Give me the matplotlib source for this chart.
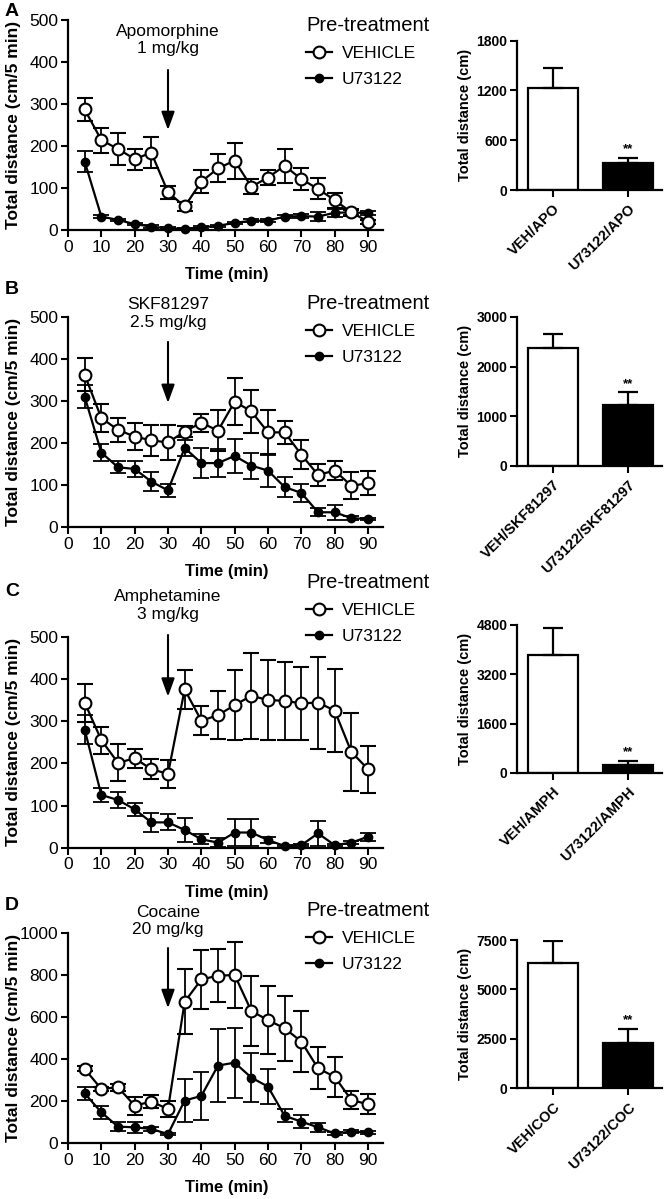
import numpy as np
import matplotlib
matplotlib.use("Agg")
import matplotlib.pyplot as plt

plt.rcParams['font.family'] = ['Liberation Sans', 'DejaVu Sans']

# time bins (min)
time = [5, 10, 15, 20, 25, 30, 35, 40, 45, 50, 55, 60, 65, 70, 75, 80, 85, 90]

# A: apomorphine
apo_veh = [287, 214, 193, 169, 184, 90, 56, 115, 147, 165, 103, 125, 153, 121, 98, 71, 42, 20]
apo_veh_err = [27, 30, 39, 25, 37, 15, 11, 28, 33, 43, 18, 18, 40, 26, 25, 18, 8, 5]
apo_u = [163, 32, 24, 14, 8, 4, 3, 6, 10, 17, 22, 22, 32, 33, 32, 41, 42, 40]
apo_u_err = [24, 3, 3, 3, 3, 2, 2, 3, 3, 3, 4, 4, 4, 4, 10, 10, 6, 5]

# B: SKF81297
skf_veh = [362, 259, 231, 215, 206, 201, 227, 248, 229, 298, 275, 225, 225, 172, 124, 134, 98, 104]
skf_veh_err = [39, 34, 28, 32, 37, 42, 14, 21, 48, 56, 51, 52, 28, 34, 26, 22, 32, 28]
skf_u = [310, 177, 142, 138, 108, 87, 188, 152, 152, 169, 146, 134, 95, 81, 35, 35, 21, 19]
skf_u_err = [28, 21, 14, 18, 22, 16, 19, 35, 33, 40, 31, 38, 24, 22, 10, 18, 4, 3]

# C: amphetamine
amph_veh = [344, 255, 201, 212, 186, 175, 375, 301, 314, 338, 360, 350, 348, 342, 344, 325, 227, 186]
amph_veh_err = [45, 32, 44, 23, 24, 33, 46, 35, 57, 83, 102, 95, 93, 87, 109, 98, 93, 56]
amph_u = [280, 125, 113, 91, 60, 60, 42, 20, 12, 36, 36, 18, 4, 6, 34, 6, 12, 26]
amph_u_err = [34, 16, 18, 16, 23, 19, 28, 12, 10, 33, 31, 8, 3, 3, 29, 3, 4, 10]

# D: cocaine
coc_veh = [353, 258, 266, 179, 198, 163, 672, 778, 796, 799, 628, 585, 546, 483, 356, 316, 206, 185]
coc_veh_err = [12, 10, 16, 43, 31, 38, 154, 139, 125, 158, 168, 161, 155, 146, 100, 95, 42, 48]
coc_u = [237, 147, 79, 76, 68, 44, 203, 225, 369, 383, 312, 269, 130, 103, 76, 47, 55, 52]
coc_u_err = [32, 32, 21, 27, 8, 6, 101, 115, 172, 166, 115, 82, 31, 31, 22, 6, 6, 6]

# total distance bars
bar_veh = [1233, 2373, 3830, 6353]
bar_veh_err = [241, 283, 862, 1120]
bar_u = [321, 1227, 270, 2275]
bar_u_err = [69, 250, 129, 725]
bar_labels = [["VEH/APO", "U73122/APO"],
              ["VEH/SKF81297", "U73122/SKF81297"],
              ["VEH/AMPH", "U73122/AMPH"],
              ["VEH/COC", "U73122/COC"]]
bar_ticks = [[0, 600, 1200, 1800], [0, 1000, 2000, 3000],
             [0, 1600, 3200, 4800], [0, 2500, 5000, 7500]]

panel_letters = ["A", "B", "C", "D"]
drugs = ["Apomorphine\n1 mg/kg", "SKF81297\n2.5 mg/kg",
         "Amphetamine\n3 mg/kg", "Cocaine\n20 mg/kg"]
line_ymax = [500, 500, 500, 1000]
line_ystep = [100, 100, 100, 200]

W, H = 667, 1199
fig = plt.figure(figsize=(W / 100, H / 100), dpi=100)


def px_axes(left, top, right, bottom):
    return fig.add_axes([left / W, 1 - bottom / H, (right - left) / W, (bottom - top) / H])


def style(ax):
    for s in ["top", "right"]:
        ax.spines[s].set_visible(False)
    for s in ["left", "bottom"]:
        ax.spines[s].set_linewidth(1.6)
    ax.tick_params(width=1.5, length=5, direction="out")


line_boxes = [(20, 230), (316.7, 527), (636.7, 847.7), (932.7, 1143.3)]
bar_boxes = [(40.7, 190), (317, 465.7), (625, 773), (940, 1088)]
legend_top = [16, 294, 573, 901]
letter_y = [12, 290, 591, 905]
# arrow (top, bottom) and text y in data units
arrow_span = [(381, 238), (440, 295), (504, 358), (927, 642)]
text_y = [452, 508, 574, 1055]

series = [(apo_veh, apo_veh_err, apo_u, apo_u_err),
          (skf_veh, skf_veh_err, skf_u, skf_u_err),
          (amph_veh, amph_veh_err, amph_u, amph_u_err),
          (coc_veh, coc_veh_err, coc_u, coc_u_err)]

for i in range(4):
    veh, veh_err, u, u_err = series[i]
    top, bot = line_boxes[i]
    ax = px_axes(68, top, 383, bot)
    style(ax)
    eu = ax.errorbar(time, u, yerr=u_err, color="black", lw=1.6, marker="o", ms=6,
                     mfc="black", mec="black", capsize=5.5, elinewidth=1.3, capthick=1.3,
                     clip_on=False, zorder=3)
    ev = ax.errorbar(time, veh, yerr=veh_err, color="black", lw=1.6, marker="o", ms=8.5,
                     mfc="white", mec="black", mew=1.5, capsize=5.5, elinewidth=1.3,
                     capthick=1.3, clip_on=False, zorder=4)
    ax.set_xlim(0, 94.5)
    ax.set_ylim(0, line_ymax[i])
    ax.set_xticks(range(0, 91, 10))
    ax.set_yticks(np.arange(0, line_ymax[i] + 1, line_ystep[i]))
    ax.tick_params(labelsize=12.5, pad=2)
    ax.set_xlabel("Time (min)", fontsize=12, fontweight="bold")
    ax.xaxis.set_label_coords(0.505, -0.176)
    ax.set_ylabel("Total distance (cm/5 min)", fontsize=12.5, fontweight="bold")
    ax.yaxis.set_label_coords(-0.148, 0.5)

    at, ab = arrow_span[i]
    ax.annotate("", xy=(30, ab), xytext=(30, at), annotation_clip=False,
                arrowprops=dict(arrowstyle="-|>,head_length=1.1,head_width=0.4",
                                color="black", lw=1.5, shrinkA=0, shrinkB=0))
    ax.text(30, text_y[i], drugs[i], ha="center", va="center", fontsize=12.5,
            linespacing=1.2, clip_on=False)

    ax.legend([ev[0], eu[0]], ["VEHICLE", "U73122"], title="Pre-treatment",
              loc="upper left", bbox_to_anchor=(306 / W, 1 - legend_top[i] / H),
              bbox_transform=fig.transFigure, frameon=False, fontsize=12.5,
              title_fontsize=14.5, alignment="left", borderpad=0,
              borderaxespad=0, handlelength=1.5, handletextpad=0.55,
              labelspacing=0.62)

    fig.text(5 / W, 1 - letter_y[i] / H, panel_letters[i], fontsize=14,
             fontweight="bold", ha="left", va="center")

    # bar panel
    btop, bbot = bar_boxes[i]
    bx = px_axes(517, btop, 662, bbot)
    style(bx)
    bx.bar([0], [bar_veh[i]], width=0.667, color="white", edgecolor="black", lw=1.6)
    bx.bar([1], [bar_u[i]], width=0.667, color="black", edgecolor="black", lw=1.6)
    bx.errorbar([0, 1], [bar_veh[i], bar_u[i]], yerr=[[0, 0], [bar_veh_err[i], bar_u_err[i]]],
                fmt="none", ecolor="black", elinewidth=1.6, capsize=7, capthick=1.6)
    bx.annotate("**", xy=(1, bar_u[i] + bar_u_err[i]), xytext=(0, 2),
                textcoords="offset points", ha="center", va="bottom",
                fontsize=9.5, fontweight="bold")
    bx.set_xlim(-0.48, 1.453)
    bx.set_ylim(0, bar_ticks[i][-1])
    bx.set_yticks(bar_ticks[i])
    bx.set_xticks([0, 1])
    bx.set_xticklabels(bar_labels[i], rotation=45, ha="right", rotation_mode="anchor",
                       fontsize=10.5, fontweight="bold")
    for t in bx.get_yticklabels():
        t.set_fontweight("bold")
        t.set_fontsize(10)
    bx.tick_params(axis="y", pad=2)
    bx.set_ylabel("Total distance (cm)", fontsize=10.5, fontweight="bold")
    bx.yaxis.set_label_coords(-0.31, 0.5)

fig.savefig("out.png", dpi=100)
